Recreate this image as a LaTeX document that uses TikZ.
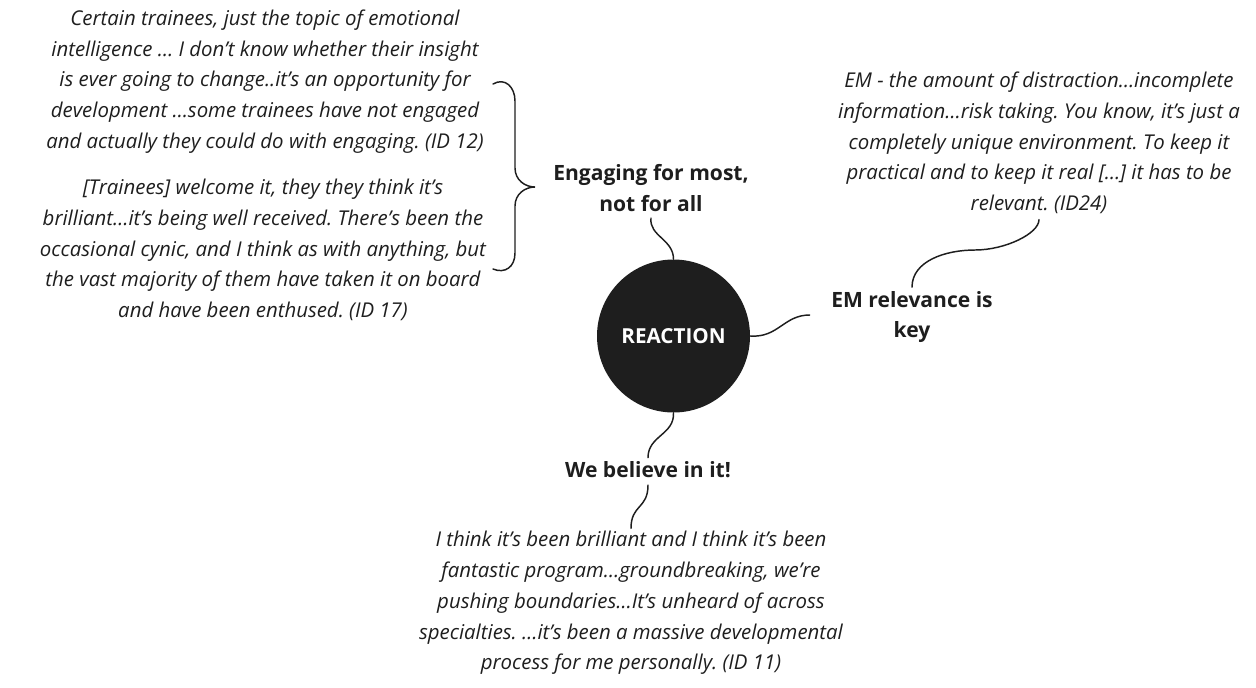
\documentclass[tikz,border=0pt]{standalone}
\usepackage{fontspec}
\setmainfont{Open Sans}
\definecolor{ink}{HTML}{1E1E1E}
\frenchspacing
\begin{document}
\begin{tikzpicture}[x=0.75pt,y=-0.75pt,
  quote/.style={align=center,inner sep=0pt,text=ink,
    font=\fontsize{15.3pt}{23.1pt}\selectfont\itshape},
  theme/.style={align=center,inner sep=0pt,text=ink,
    font=\fontsize{15.8pt}{22.6pt}\selectfont\bfseries},
  hub/.style={circle,fill=ink,minimum size=153*0.75pt,inner sep=0pt,
    text=white,font=\fontsize{15.5pt}{17pt}\selectfont\bfseries},
  link/.style={draw=ink,line width=1.1pt,line cap=round}]
\useasboundingbox (0,0) rectangle (1256,687);

% central hub
\node[hub] (reaction) at (673.5,336) {REACTION};

% themes
\node[theme] (eng) at (651,188) {Engaging for most,\\not for all};
\node[theme] (rel) at (912,317) {EM relevance is\\key};
\node[theme] (bel) at (648,470) {We believe in it!};

% quotes
\node[quote] (q12) at (265,81.5) {Certain trainees, just the topic of emotional\\
  intelligence \dots\ I don’t know whether their insight\\
  is ever going to change..it’s an opportunity for\\
  development \dots some trainees have not engaged\\
  and actually they could do with engaging. (ID 12)};
\node[quote] (q17) at (263,250) {[Trainees] welcome it, they they think it’s\\
  brilliant\dots it’s being well received. There’s been the\\
  occasional cynic, and I think as with anything, but\\
  the vast majority of them have taken it on board\\
  and have been enthused. (ID 17)};
\node[quote] (q24) at (1039,143) {EM - the amount of distraction\dots incomplete\\
  information\dots risk taking. You know, it’s just a\\
  completely unique environment. To keep it\\
  practical and to keep it real [\dots] it has to be\\
  relevant. (ID24)};
\node[quote] (q11) at (631,603) {I think it’s been brilliant and I think it’s been\\
  fantastic program\dots groundbreaking, we’re\\
  pushing boundaries\dots It’s unheard of across\\
  specialties. \dots it’s been a massive developmental\\
  process for me personally. (ID 11)};

% brace gathering the two quotes
\coordinate (bt) at (493,84);
\coordinate (bb) at (493,269);
\coordinate (btip) at (535,187);
\draw[link] (bt) .. controls +(12,-7) and +(0,-14) .. (515,101)
  -- (515,168) .. controls +(0,12) and +(-10,0) .. (btip)
  .. controls +(-10,0) and +(0,-12) .. (515,206)
  -- (515,253) .. controls +(0,14) and +(12,5) .. (bb);

% connectors
\draw[link] ([yshift=-5pt]eng.south) .. controls +(-2,18) and +(0,-20) .. (reaction.north);
\draw[link] (reaction.east) .. controls +(28,2) and +(-26,0) .. ([xshift=-16pt,yshift=1.5pt]rel.west);
\draw[link] ([yshift=3pt]rel.north) .. controls +(0,-26) and +(-30,0) .. (975,250)
  .. controls +(30,0) and +(0,14) .. ([yshift=-4pt]q24.south);
\draw[link] (reaction.south) .. controls +(1,22) and +(0,-22) .. ([yshift=3pt]bel.north);
\draw[link] ([yshift=-5pt]bel.south) .. controls +(0,24) and +(0,-24) .. ([yshift=2pt]q11.north);
\end{tikzpicture}
\end{document}
